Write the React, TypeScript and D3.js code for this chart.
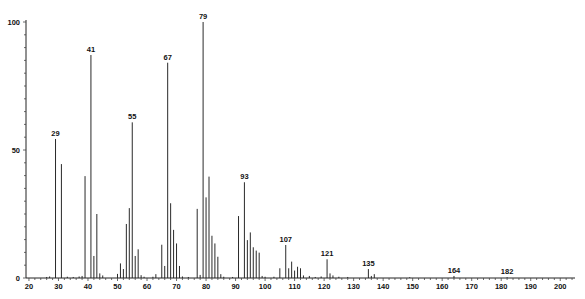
import React from "react";
import * as d3 from "d3";

const mzValues = [26, 27, 29, 31, 33, 35, 37, 38, 39, 41, 42, 43, 44, 45, 50, 51, 52, 53, 54, 55, 56, 57, 58, 59, 62, 63, 65, 66, 67, 68, 69, 70, 71, 72, 74, 77, 78, 79, 80, 81, 82, 83, 84, 85, 86, 89, 91, 93, 94, 95, 96, 97, 98, 99, 100, 103, 105, 107, 108, 109, 110, 111, 112, 113, 115, 117, 119, 121, 122, 123, 125, 128, 135, 136, 137, 149, 164, 182];
const intensities = [0.4, 0.6, 54.3, 44.5, 0.5, 0.4, 0.6, 0.8, 39.8, 87.1, 8.6, 25, 1.8, 1, 1.6, 5.7, 3.5, 21.1, 27.3, 60.8, 8.6, 11.2, 1.1, 0.5, 0.5, 1.5, 13, 4.7, 84.1, 29.2, 18.8, 13.5, 4.7, 0.6, 0.4, 27, 1.2, 100, 31.5, 39.6, 16.5, 13.5, 8.3, 1.5, 0.5, 0.4, 24.2, 37.4, 14.8, 17.8, 12, 10.7, 9.9, 0.8, 0.5, 0.5, 3.8, 12.9, 3.8, 6.4, 2.9, 4.4, 3.8, 1, 0.8, 0.4, 0.6, 7.3, 1.8, 1, 0.5, 0.4, 3.5, 0.8, 1.5, 0.3, 0.8, 0.3];
const labeledPeaks = [29, 41, 55, 67, 79, 93, 107, 121, 135, 164, 182];
const xTickLabels = [20, 30, 40, 50, 60, 70, 80, 90, 100, 110, 120, 130, 140, 150, 160, 170, 180, 190, 200];
const yTickLabels = [0, 50, 100];

export default function App() {
  const W = 585, H = 299;
  const x = d3.scaleLinear().domain([19, 205]).range([26, 575]);
  const y = d3.scaleLinear().domain([0, 100]).range([278, 22]);
  const font = "'Liberation Sans', Arial, sans-serif";
  const minorX = d3.range(20, 205, 2);
  const minorY = d3.range(0, 101, 5);
  return (
    <svg width={W} height={H} style={{ position: "absolute", left: 0, top: 0, background: "#fff" }}>
      {mzValues.map((m, i) => (
        <line key={"p" + i} x1={x(m)} x2={x(m)} y1={y(0)} y2={y(intensities[i])} stroke="#2a2a2a" strokeWidth={1} />
      ))}
      <line x1={x(19)} x2={x(205)} y1={y(0)} y2={y(0)} stroke="#222" strokeWidth={1} />
      <line x1={x(19)} x2={x(19)} y1={y(0)} y2={y(100) - 2} stroke="#222" strokeWidth={1} />
      {minorX.map((t) => (
        <line key={"mx" + t} x1={x(t)} x2={x(t)} y1={y(0)} y2={y(0) + (t % 10 === 0 ? 3 : 2)} stroke="#444" strokeWidth={0.8} />
      ))}
      {minorY.map((t) => (
        <line key={"my" + t} x1={x(19) - (t % 50 === 0 ? 3 : 2)} x2={x(19)} y1={y(t)} y2={y(t)} stroke="#444" strokeWidth={0.8} />
      ))}
      {xTickLabels.map((t) => (
        <text key={"xl" + t} x={x(t)} y={289} textAnchor="middle" fontFamily={font} fontWeight="bold" fontSize={7.5} fill="#111">{t}</text>
      ))}
      {yTickLabels.map((t) => (
        <text key={"yl" + t} x={20} y={y(t) + 2.5} textAnchor="end" fontFamily={font} fontWeight="bold" fontSize={7.5} fill="#111">{t}</text>
      ))}
      {labeledPeaks.map((m) => {
        const i = mzValues.indexOf(m);
        return (
          <text key={"lab" + m} x={x(m)} y={y(intensities[i]) - 3} textAnchor="middle" fontFamily={font} fontWeight="bold" fontSize={7.5} fill="#111">{m}</text>
        );
      })}
    </svg>
  );
}
